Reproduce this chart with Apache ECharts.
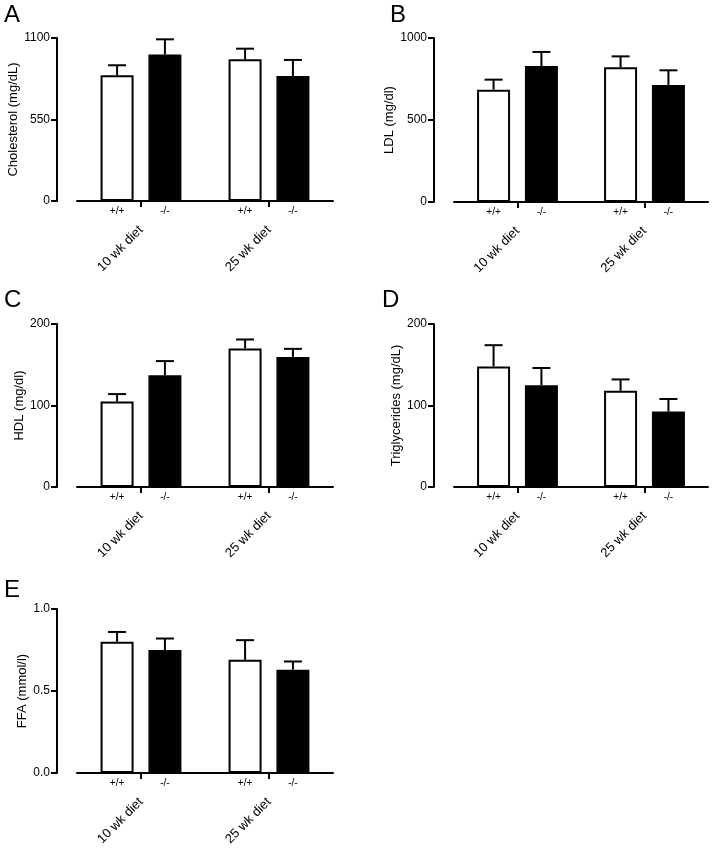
<!DOCTYPE html>
<html>
<head>
<meta charset="utf-8">
<script src="https://cdn.jsdelivr.net/npm/echarts@6/dist/echarts.min.js"></script>
<style>
  html, body { margin: 0; padding: 0; background: #fff; }
  #chart { width: 714px; height: 853px; }
</style>
</head>
<body>
<div id="chart"></div>
<script>
// ---- data ----
const categories = ['10 wk diet', '25 wk diet'];
const genotypes = ['+/+', '-/-'];

const cholTicks = [0, 550, 1100];
const cholWT = [848, 956];
const cholWTErr = [68, 72];
const cholKO = [988, 844];
const cholKOErr = [103, 108];

const ldlTicks = [0, 500, 1000];
const ldlWT = [685, 821];
const ldlWTErr = [61, 67];
const ldlKO = [829, 713];
const ldlKOErr = [86, 90];

const hdlTicks = [0, 100, 200];
const hdlWT = [105, 170];
const hdlWTErr = [9, 11];
const hdlKO = [137, 159.5];
const hdlKOErr = [17.5, 10];

const tgTicks = [0, 100, 200];
const tgWT = [148, 118];
const tgWTErr = [26, 14];
const tgKO = [125, 92.5];
const tgKOErr = [21, 15.5];

const ffaTicks = [0, 0.5, 1.0];
const ffaWT = [0.80, 0.69];
const ffaWTErr = [0.06, 0.12];
const ffaKO = [0.75, 0.63];
const ffaKOErr = [0.07, 0.05];

// ---- layout / style ----
const FONT = '"Liberation Sans", Arial, Helvetica, sans-serif';
const BAR_W = 33;
const BAR_GAP_PCT = 45;
const CAP_HALF = 9;

const panels = [
  { letter: 'A', name: 'Cholesterol (mg/dL)', ticks: cholTicks, wt: cholWT, wtErr: cholWTErr, ko: cholKO, koErr: cholKOErr, dec: 0,
    grid: { left: 77, top: 38, width: 256, height: 163 }, nameGap: 37, lx: 4, ly: 3 },
  { letter: 'B', name: 'LDL (mg/dl)', ticks: ldlTicks, wt: ldlWT, wtErr: ldlWTErr, ko: ldlKO, koErr: ldlKOErr, dec: 0,
    grid: { left: 454, top: 38, width: 254, height: 164 }, nameGap: 36, lx: 390, ly: 3 },
  { letter: 'C', name: 'HDL (mg/dl)', ticks: hdlTicks, wt: hdlWT, wtErr: hdlWTErr, ko: hdlKO, koErr: hdlKOErr, dec: 0,
    grid: { left: 77, top: 324, width: 256, height: 163 }, nameGap: 30, lx: 4, ly: 288 },
  { letter: 'D', name: 'Triglycerides (mg/dL)', ticks: tgTicks, wt: tgWT, wtErr: tgWTErr, ko: tgKO, koErr: tgKOErr, dec: 0,
    grid: { left: 454, top: 324, width: 254, height: 163 }, nameGap: 29, lx: 382, ly: 288 },
  { letter: 'E', name: 'FFA (mmol/l)', ticks: ffaTicks, wt: ffaWT, wtErr: ffaWTErr, ko: ffaKO, koErr: ffaKOErr, dec: 1,
    grid: { left: 77, top: 609, width: 256, height: 164 }, nameGap: 26, lx: 4, ly: 578 }
];

const grids = [], xAxes = [], yAxes = [], series = [], titles = [];

function errSeries(idx, means, errs, sign) {
  const offset = sign * (BAR_W * (1 + BAR_GAP_PCT / 100)) / 2;
  return {
    type: 'custom', xAxisIndex: idx, yAxisIndex: idx, z: 1, silent: true,
    encode: { x: 0, y: 1 },
    data: means.map((m, j) => [j, m, errs[j]]),
    renderItem: function (params, api) {
      const base = api.coord([api.value(0), api.value(1)]);
      const top = api.coord([api.value(0), api.value(1) + api.value(2)]);
      const x = base[0] + offset;
      return {
        type: 'group',
        children: [
          { type: 'line', shape: { x1: x, y1: base[1], x2: x, y2: top[1] }, style: { stroke: '#000', lineWidth: 2 } },
          { type: 'line', shape: { x1: x - CAP_HALF, y1: top[1], x2: x + CAP_HALF, y2: top[1] }, style: { stroke: '#000', lineWidth: 2 } }
        ]
      };
    }
  };
}

panels.forEach((p, i) => {
  grids.push(Object.assign({ containLabel: false }, p.grid));
  titles.push({
    text: p.letter, left: p.lx, top: p.ly, padding: 0,
    textStyle: { fontSize: 24, fontWeight: 'normal', color: '#000', fontFamily: FONT }
  });
  xAxes.push({
    type: 'category', gridIndex: i, data: categories, offset: 19,
    axisLine: { show: true, lineStyle: { color: '#000', width: 2 } },
    axisTick: { show: true, alignWithLabel: true, length: 6, lineStyle: { color: '#000', width: 2 } },
    axisLabel: { rotate: 45, fontSize: 13, color: '#000', margin: 8, fontFamily: FONT },
    splitLine: { show: false }
  });
  yAxes.push({
    type: 'value', gridIndex: i, offset: 20,
    min: p.ticks[0], max: p.ticks[p.ticks.length - 1], interval: p.ticks[1] - p.ticks[0],
    name: p.name, nameLocation: 'middle', nameGap: p.nameGap,
    nameTextStyle: { fontSize: 13, color: '#000', fontFamily: FONT },
    axisLine: { show: true, lineStyle: { color: '#000', width: 2 } },
    axisTick: { show: true, length: 6, lineStyle: { color: '#000', width: 2 } },
    axisLabel: { fontSize: 12, color: '#000', margin: 7, fontFamily: FONT,
      formatter: (v) => v.toFixed(p.dec) },
    splitLine: { show: false }
  });
  const lbl = { show: true, position: 'bottom', distance: 5, fontSize: 10, color: '#000', fontFamily: FONT,
    formatter: (prm) => prm.seriesName };
  series.push({
    type: 'bar', name: genotypes[0], xAxisIndex: i, yAxisIndex: i, data: p.wt,
    barWidth: BAR_W, barGap: BAR_GAP_PCT + '%', z: 2,
    itemStyle: { color: '#fff', borderColor: '#000', borderWidth: 2 },
    label: lbl, emphasis: { disabled: true }, animation: false
  });
  series.push({
    type: 'bar', name: genotypes[1], xAxisIndex: i, yAxisIndex: i, data: p.ko,
    barWidth: BAR_W, barGap: BAR_GAP_PCT + '%', z: 2,
    itemStyle: { color: '#000', borderColor: '#000', borderWidth: 2 },
    label: lbl, emphasis: { disabled: true }, animation: false
  });
  series.push(errSeries(i, p.wt, p.wtErr, -1));
  series.push(errSeries(i, p.ko, p.koErr, 1));
});

const chart = echarts.init(document.getElementById('chart'), null, { renderer: 'canvas' });
chart.setOption({
  backgroundColor: '#fff',
  animation: false,
  textStyle: { fontFamily: FONT },
  title: titles,
  grid: grids,
  xAxis: xAxes,
  yAxis: yAxes,
  series: series,
  tooltip: { show: false }
});
</script>
</body>
</html>
